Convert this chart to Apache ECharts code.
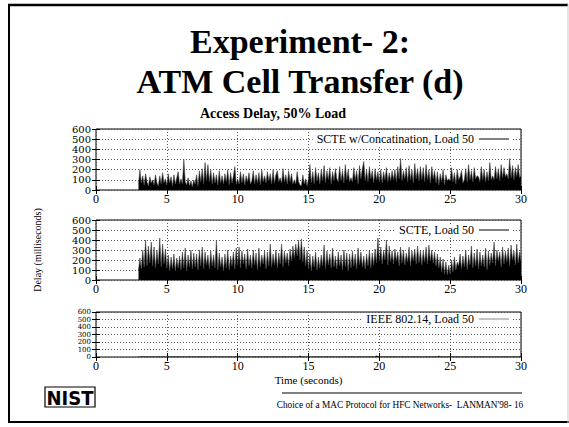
<!DOCTYPE html>
<html><head><meta charset="utf-8">
<script src="https://cdn.jsdelivr.net/npm/echarts@6/dist/echarts.min.js"></script>
<style>html,body{margin:0;padding:0;background:#fff}#c{width:569px;height:427px}</style>
</head><body><div id="c"></div>
<script>
// sampling of the traces: first sample time and step (seconds)
const t0 = 3.0, dt = 0.1;
const xTicks = [0, 5, 10, 15, 20, 25, 30];
const yTicks = [0, 100, 200, 300, 400, 500, 600];
const seriesNames = ['SCTE w/Concatination, Load 50', 'SCTE, Load 50', 'IEEE 802.14, Load 50'];

const concatDelay = [
  60,200,70,140,50,160,80,40,130,70,
  100,50,150,70,40,140,60,170,70,110,
  50,160,70,130,40,150,60,120,180,60,
  110,60,300,80,50,120,40,90,30,100,
  60,150,40,190,80,210,60,270,90,250,
  80,200,60,170,70,150,50,190,70,140,
  60,160,80,200,50,170,70,140,230,60,
  110,60,180,70,160,50,140,80,170,60,
  90,190,60,150,70,170,50,200,80,140,
  70,180,90,160,60,200,70,150,190,80,
  120,70,210,80,150,60,190,80,160,60,
  100,60,180,80,50,40,150,60,110,40,
  110,250,70,180,60,220,90,170,60,200,
  90,240,70,190,100,220,60,180,90,210,
  110,80,230,90,190,70,250,100,200,80,
  120,80,220,100,190,60,240,110,210,280,
  90,200,80,230,110,190,70,210,100,180,
  80,200,70,180,100,220,80,170,90,190,
  100,200,80,230,110,310,90,190,110,220,
  80,240,100,200,70,260,110,210,90,230,
  100,220,80,250,100,200,70,230,110,190,
  70,180,50,160,80,200,50,150,90,110,
  90,220,80,170,60,200,100,130,190,70,
  100,210,80,250,100,190,80,220,110,140,
  130,80,230,100,200,80,180,90,270,100,
  140,100,230,110,210,90,250,120,220,130,
  160,110,310,120,240,100,220,130,250,120,
  140
];

const scteDelay = [
  100,220,110,300,130,400,140,340,170,380,
  140,330,120,300,160,420,130,360,160,310,
  120,250,90,230,110,260,90,220,120,240,
  100,280,120,320,90,250,130,300,110,270,
  130,260,100,300,140,330,110,280,150,250,
  110,290,140,250,120,400,100,270,130,230,
  90,260,120,300,100,240,140,280,110,320,
  150,330,120,290,160,260,110,310,140,250,
  120,300,150,270,100,320,130,250,160,290,
  110,280,140,360,130,260,150,300,120,270,
  160,360,130,290,170,270,140,310,190,340,
  220,360,240,400,200,410,180,330,140,290,
  110,260,90,240,130,280,100,230,120,250,
  140,350,110,290,150,260,120,320,130,240,
  110,280,140,250,100,300,130,270,90,260,
  120,290,140,260,110,320,150,280,130,240,
  110,260,140,300,120,270,150,310,170,420,
  190,330,160,300,200,400,150,340,180,290,
  160,310,190,280,140,330,170,300,150,270,
  180,330,140,290,190,310,160,340,170,300,
  150,290,180,330,160,350,190,300,170,280,
  140,260,120,230,80,210,60,180,50,150,
  60,200,80,230,100,180,140,260,110,240,
  130,300,100,250,150,340,120,270,140,310,
  110,280,140,250,130,320,100,290,150,270,
  170,380,140,300,190,280,130,330,160,290,
  180,320,140,350,200,290,150,360,170,280,
  190
];

const ieeeDelay = [
  3,5,2,6,4,3,7,2,5,4,
  6,3,5,2,8,4,3,6,2,5,
  4,9,3,5,2,6,4,3,7,2,
  5,3,6,4,2,5,8,3,4,6,
  3,5,2,7,4,3,6,2,5,3,
  4,6,3,5,9,2,4,6,3,5,
  2,5,4,3,6,4,2,5,3,7,
  4,14,5,3,6,2,5,4,7,3,
  5,3,6,4,2,8,3,5,4,6,
  3,6,4,5,2,7,4,3,6,4,
  5,3,7,4,6,3,5,2,4,6,
  4,7,3,5,16,4,6,3,5,2,
  6,4,3,5,7,2,4,6,3,5,
  3,5,4,6,2,5,3,7,4,3,
  5,3,6,4,3,5,8,2,4,6,
  4,6,3,5,4,2,6,3,5,4,
  3,5,4,7,3,6,4,5,18,6,
  5,4,6,3,5,7,3,4,6,3,
  4,6,3,5,4,2,6,5,3,4,
  6,3,5,4,7,3,4,6,2,5,
  3,5,4,6,3,5,7,4,3,6,
  5,3,15,4,6,3,5,4,2,6,
  4,6,3,5,4,7,3,5,4,3,
  5,3,6,4,3,5,4,6,3,5,
  4,6,3,5,7,4,3,5,6,4,
  3,5,4,6,3,5,4,7,3,5,
  6,4,3,5,4,6,3,5,4,6,
  4
];

const SERIF = '"Liberation Serif", "Times New Roman", serif';
const YFONT = '"DejaVu Serif", serif';
const toPairs = arr => arr.map((v, i) => [+(t0 + i * dt).toFixed(2), v]);
const allData = [concatDelay, scteDelay, ieeeDelay];

const grids = [
  {left: 96, top: 129, width: 425, height: 61},
  {left: 96, top: 220, width: 425, height: 60},
  {left: 96, top: 312, width: 425, height: 45}
].map(g => Object.assign(g, {show: true, borderColor: '#000', borderWidth: 1}));

const yLabelSizes = [10, 10, 7];
const yMin = yTicks[0], yMax = yTicks[yTicks.length - 1], yStep = yTicks[1] - yTicks[0];
const xAxes = [], yAxes = [];
const mainYIndex = [];
grids.forEach((g, i) => {
  xAxes.push({
    type: 'value', gridIndex: i, position: 'bottom', min: xTicks[0], max: xTicks[xTicks.length - 1], interval: xTicks[1] - xTicks[0],
    axisLine: {show: false},
    axisTick: {show: true, inside: true, length: 4, lineStyle: {color: '#000'}},
    axisLabel: {color: '#000', fontFamily: SERIF, fontSize: 12, margin: 3, showMinLabel: true, showMaxLabel: true},
    splitLine: {show: true, lineStyle: {color: '#555', type: [1, 2], width: 1}},
    name: i === 2 ? 'Time (seconds)' : '',
    nameLocation: 'middle', nameGap: 17,
    nameTextStyle: {color: '#000', fontFamily: SERIF, fontSize: 11}
  });
  xAxes.push({
    type: 'value', gridIndex: i, position: 'top', min: xTicks[0], max: xTicks[xTicks.length - 1], interval: xTicks[1] - xTicks[0],
    axisLine: {show: false},
    axisTick: {show: true, inside: true, length: 4, lineStyle: {color: '#000'}},
    axisLabel: {show: false}, splitLine: {show: false}
  });
  const squeezed = i === 2;
  mainYIndex.push(yAxes.length);
  yAxes.push({
    type: 'value', gridIndex: i, position: 'left', offset: 0, min: yMin, max: yMax, interval: yStep,
    axisLine: {show: false},
    axisTick: {show: true, inside: true, length: 4, lineStyle: {color: '#000'}},
    axisLabel: {color: '#000', fontFamily: YFONT, fontSize: yLabelSizes[i], margin: 5,
      showMinLabel: true, showMaxLabel: true, hideOverlap: false,
      formatter: squeezed ? (v => ((v / yStep) % 2 === 0 ? String(v) : '')) : null},
    splitLine: {show: true, lineStyle: {color: '#555', type: [1, 2], width: 1}},
    name: i === 1 ? 'Delay (milliseconds)' : '',
    nameLocation: 'middle', nameGap: 54, nameRotate: 90,
    nameTextStyle: {color: '#000', fontFamily: SERIF, fontSize: 10}
  });
  yAxes.push({
    type: 'value', gridIndex: i, position: 'right', offset: 0, min: yMin, max: yMax, interval: yStep,
    axisLine: {show: false},
    axisTick: {show: true, inside: true, length: 4, lineStyle: {color: '#000'}},
    axisLabel: {show: false}, splitLine: {show: false}
  });
  if (squeezed) {
    // second label layer on the left for the odd ticks of the squeezed panel
    yAxes.push({
      type: 'value', gridIndex: i, position: 'left', offset: 0, min: yMin, max: yMax, interval: yStep,
      axisLine: {show: false}, axisTick: {show: false}, splitLine: {show: false},
      axisLabel: {color: '#000', fontFamily: YFONT, fontSize: yLabelSizes[i], margin: 5,
        showMinLabel: true, showMaxLabel: true, hideOverlap: false,
        formatter: v => ((v / yStep) % 2 === 1 ? String(v) : '')}
    });
  }
});

const legendIconColors = ['#000', '#000', '#888'];
const legendTops = [133, 224, 313];
const legends = seriesNames.map((n, i) => ({
  data: [{name: n, itemStyle: {color: legendIconColors[i]}}],
  right: 56, top: legendTops[i], orient: 'horizontal', align: 'right',
  icon: 'rect', itemWidth: 30, itemHeight: 1, itemGap: 0,
  backgroundColor: '#fff', padding: [0, 4, 0, 4],
  textStyle: {color: '#000', fontFamily: SERIF, fontSize: 12, padding: [0, 0, 0, 0]}
}));

const series = seriesNames.map((n, i) => ({
  name: n, type: 'line', xAxisIndex: i * 2, yAxisIndex: mainYIndex[i],
  data: toPairs(allData[i]), symbol: 'none', showSymbol: false,
  lineStyle: {color: '#444', width: 0.6},
  areaStyle: {color: '#000', opacity: 1, origin: 'start'},
  itemStyle: {color: legendIconColors[i]},
  z: 1
}));

const chart = echarts.init(document.getElementById('c'), null, {renderer: 'svg'});
chart.setOption({
  animation: false,
  backgroundColor: '#fff',
  grid: grids, xAxis: xAxes, yAxis: yAxes, legend: legends, series: series,
  graphic: [
    {type: 'line', shape: {x1: 8, y1: 5, x2: 568, y2: 5}, style: {stroke: '#000', lineWidth: 2.5}},
    {type: 'line', shape: {x1: 9, y1: 4, x2: 9, y2: 423}, style: {stroke: '#000', lineWidth: 2}},
    {type: 'line', shape: {x1: 8, y1: 422, x2: 569, y2: 422}, style: {stroke: '#000', lineWidth: 2}},
    {type: 'line', shape: {x1: 568, y1: 4, x2: 568, y2: 423}, style: {stroke: '#ccc', lineWidth: 1}},
    {type: 'text', x: 300, y: 41, style: {text: 'Experiment- 2:', fill: '#000', font: 'bold 34px ' + SERIF, textAlign: 'center', textVerticalAlign: 'middle'}},
    {type: 'text', x: 300, y: 81, style: {text: 'ATM Cell Transfer (d)', fill: '#000', font: 'bold 34px ' + SERIF, textAlign: 'center', textVerticalAlign: 'middle'}},
    {type: 'text', x: 273, y: 113, style: {text: 'Access Delay, 50% Load', fill: '#000', font: 'bold 14px ' + SERIF, textAlign: 'center', textVerticalAlign: 'middle'}},
    {type: 'line', shape: {x1: 282, y1: 393, x2: 522, y2: 393}, style: {stroke: '#000', lineWidth: 1}},
    {type: 'text', x: 400, y: 405, style: {text: "Choice of a MAC Protocol for HFC Networks-  LANMAN'98- 16", fill: '#000', font: '9.3px ' + SERIF, textAlign: 'center', textVerticalAlign: 'middle'}},
    {type: 'rect', shape: {x: 45, y: 387, width: 50, height: 20}, style: {fill: '#fff', stroke: '#000', lineWidth: 1.2}},
    {type: 'text', x: 70, y: 397.5, scaleX: 0.9, style: {text: 'NIST', fill: '#000', font: 'bold 20px "DejaVu Sans", sans-serif', textAlign: 'center', textVerticalAlign: 'middle'}}
  ]
});
</script>
</body></html>
